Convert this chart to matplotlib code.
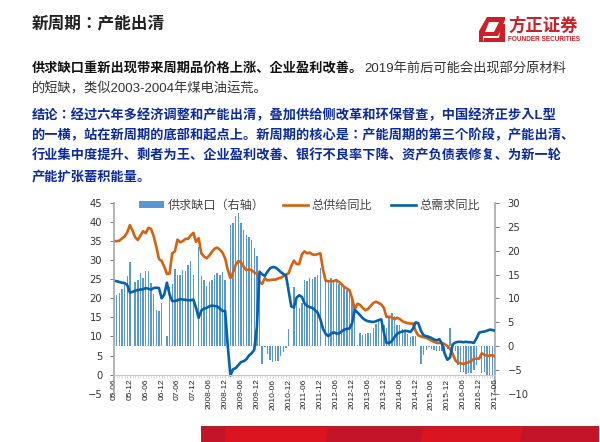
import numpy as np
import matplotlib
matplotlib.use("Agg")
import matplotlib.pyplot as plt
from matplotlib.patches import Polygon, Rectangle

CJK = ['Liberation Sans', 'Noto Sans CJK JP', 'DejaVu Sans']
plt.rcParams['font.family'] = CJK

title = "新周期：产能出清"
para1_bold = "供求缺口重新出现带来周期品价格上涨、企业盈利改善。"
para1_reg_a = "2019年前后可能会出现部分原材料"
para1_reg_b = "的短缺，类似2003-2004年煤电油运荒。"
para2 = ["结论：经过六年多经济调整和产能出清，叠加供给侧改革和环保督查，中国经济正步入L型",
         "的一横，站在新周期的底部和起点上。新周期的核心是：产能周期的第三个阶段，产能出清、",
         "行业集中度提升、剩者为王、企业盈利改善、银行不良率下降、资产负债表修复、为新一轮",
         "产能扩张蓄积能量。"]

tick_labels = ["05-06", "05-12", "06-06", "06-12", "07-06", "07-12", "2008-06", "2008-12",
               "2009-06", "2009-12", "2010-06", "2010-12", "2011-06", "2011-12", "2012-06",
               "2012-12", "2013-06", "2013-12", "2014-06", "2014-12", "2015-06", "2015-12",
               "2016-06", "2016-12", "2017-06"]

supply = [35, 35, 35.1, 35.7, 36.2, 37.3, 39.2, 37.8, 36, 35.3, 36.5, 37.6, 37.1, 38.5, 38.2,
          36.3, 33.5, 30.3, 29.8, 28.3, 26.4, 26.5, 31.8, 32.3, 35.4, 34.7, 35, 35.6, 35.6, 36.5,
          37.2, 34.8, 35.8, 31.8, 31, 30.5, 31.2, 32.2, 33, 33.3, 32.8, 32, 30.5, 27.5, 25.3,
          26.8, 28.8, 29.8, 29.5, 28.3, 27.4, 27.6, 27.4, 26.8, 26.4, 24.3, 23.8, 25.3, 24.7, 24.8,
          24.9, 24.9, 25.2, 25.4, 25.8, 26.2, 26.6, 28.5, 29.9, 29, 29, 31.5, 32.3, 31.8, 32,
          31.5, 31.4, 31.6, 31.8, 27.5, 24.6, 24.5, 24.5, 24.5, 24.8, 24.3, 23.7, 23, 22.6, 22.1,
          20, 17.1, 18.6, 18.3, 17.5, 16.9, 17.2, 18, 18.8, 19.1, 18.8, 18.4, 17.5, 15.1, 15.2,
          15, 14.5, 14.9, 14.6, 14, 13.7, 13.5, 13.4, 13.4, 11.5, 10.3, 10, 9.8, 9.7, 9.3,
          8.9, 8.6, 8.3, 8.3, 8.3, 8, 7.5, 6.8, 5.5, 3.8, 3.1, 3, 2.8, 3, 3.2,
          3.6, 4.1, 4.2, 4.2, 5.6, 5.2, 4.9, 5, 5.1, 4.7]

demand = [24.6, 24.5, 24.3, 24.1, 24, 23.5, 21.5, 21.7, 22, 22.2, 22.3, 22.4, 22.7, 22.5, 22.3,
          22.7, 22.8, 22.7, 20, 21, 24.1, 21, 19.3, 19.3, 19.5, 19.8, 19.7, 19.6, 19.5, 19.5,
          19.7, 17.5, 14.9, 16.8, 17.3, 17.5, 17.9, 18.1, 18, 17.9, 17.3, 16.7, 16.7, 7.5, -0.2,
          1.4, 1.7, 2.5, 3.3, 3.5, 4, 5, 5.6, 6.5, 12.5, 27, 26.3, 25.9, 27, 27.9,
          28.2, 28.1, 27.6, 26.9, 26.4, 26, 22, 17.9, 17.6, 20.2, 20.8, 20.4, 18.7, 18, 17.7,
          17.5, 16.9, 16.2, 14.5, 12, 10.7, 10.1, 10.7, 11.1, 10.8, 10.8, 11.3, 11.8, 12, 12.1,
          13.5, 17, 16.3, 15.6, 14.8, 14.3, 14, 13.9, 13.8, 14, 14.3, 14.5, 11, 8.3, 8.3,
          8.8, 9.8, 10.7, 11.1, 11.3, 11.5, 11.4, 11.2, 12, 13.7, 13.5, 11.5, 10.3, 10.1, 9.9,
          9.6, 9.2, 9, 9.3, 8, 5.5, 3.9, 4.5, 7.9, 8.4, 8.6, 8.6, 8.5, 8.6, 8.5,
          8.5, 8.3, 9.5, 11, 11.2, 11.3, 11.5, 11.8, 11.7, 11.5]

gap = [10.4, 10.6, 11.2, 11.9, 12.9, 14.6, 17.6, 0, 13.4, 13.8, 15.3, 14.3, 15.8, 15.7, 13.2,
       10.9, 7.6, 7.4, 9, 0, 2.2, 12.4, 13, 16.1, 15, 15, 15.9, 15.8, 17, 17.8,
       14.9, 0, 20.8, 14.6, 13.8, 12.6, 13.4, 13.8, 14.9, 15.4, 15, 15.5, 13.8, 0, 25.4,
       25.8, 27.2, 27.8, 25.9, 24.4, 23.3, 22.9, 22.2, 20.6, 18.8, 14, -3.8, -0.2, -1.6, -2.9,
       -3.4, -3.2, -3.1, -2, -1.2, -0.5, 3.6, 0, 12.3, 10, 8, 9, 13.9, 13.6, 14.3,
       14, 14.5, 14.9, 16.4, 0, 13.4, 13.6, 14.2, 13.6, 13.9, 13.1, 12.6, 12.2, 11.7, 10.9,
       9.9, 8, 0.2, 2.7, 2.4, 2.6, 2.7, 2.8, 3.7, 4.6, 5.3, 5.5, 4.5, 3.8, 6,
       6.9, 6.4, 4.4, 4.4, 3.5, 3, 2.5, 1.8, 2, 2.1, 0, -3.7, -1.8, -0.8, -0.3,
       -0.6, -0.9, -1, -1.1, -1.1, -1, -0.6, 3.7, -0.5, -1, -4, -5.4, -5.4, -5.9, -5.6,
       -5.6, -5, -4, 0, -5.7, -5.4, -6.3, -6.2, -6.4, -7]

months = np.arange(len(supply))
W, H = 600, 442
fig = plt.figure(figsize=(W / 100, H / 100), dpi=100, facecolor='white')

# slide layer in pixel coordinates
bg = fig.add_axes([0, 0, 1, 1], zorder=0)
bg.set_xlim(0, W); bg.set_ylim(H, 0); bg.axis('off')

bg.add_patch(Rectangle((201, 425.5), 398, 16.5, fc='#C2152A', ec='none'))
bg.add_patch(Polygon([[225, 442], [226, 426], [328, 426], [326, 442]], fc='#DC141F', ec='none'))
bg.add_patch(Polygon([[421, 442], [424, 426], [523, 426], [520, 442]], fc='#DA1522', ec='none'))
bg.add_patch(Rectangle((201, 425.5), 398, 1, fc='#B0202A', ec='none'))

bg.text(31.5, 23, title, fontsize=12, fontweight='bold', color='#222222', va='center', ha='left')
bg.text(31.5, 68, para1_bold, fontsize=9.5, fontweight='bold', color='#111111', va='center', ha='left')
bg.text(364, 68, para1_reg_a, fontsize=9.5, color='#333333', va='center', ha='left')
bg.text(31.5, 89, para1_reg_b, fontsize=9.5, color='#333333', va='center', ha='left')
for yy, line in zip([115, 135.5, 156, 177], para2):
    bg.text(31.5, yy, line, fontsize=9.5, fontweight='bold', color='#0B2A9E', va='center', ha='left')

# logo
red = '#CE1F27'
bg.add_patch(Polygon([[487, 17], [505, 17], [505, 20], [498, 36], [483, 36], [483, 42], [479, 42], [479, 31]],
                     fc=red, ec='none'))
bg.add_patch(Polygon([[489, 22], [499, 22], [494, 32], [485, 32]], fc='white', ec='none'))
bg.add_patch(Polygon([[501, 24], [505, 24], [505, 42], [483, 42], [484, 38], [499, 38]], fc=red, ec='none'))
bg.text(508, 25, "方正证券", fontsize=12.5, fontweight='bold', color=red, va='center', ha='left')
bg.text(508, 39.5, "FOUNDER SECURITIES", fontsize=4.7, fontweight='bold', color=red, va='center', ha='left')

# chart
left, right, top, bottom = 114, 495, 203, 393.7
pos = [left / W, 1 - bottom / H, (right - left) / W, (bottom - top) / H]
ax = fig.add_axes(pos, zorder=3)
ax2 = ax.twinx()
ax.set_zorder(ax2.get_zorder() + 1)
ax.patch.set_visible(False)
ax2.patch.set_visible(False)

ax2.bar(months, gap, width=0.52, color='#5A98D0', linewidth=0)
l1, = ax.plot(months, supply, color='#D5620F', lw=1.9, solid_joinstyle='round')
l2, = ax.plot(months, demand, color='#0461AE', lw=1.9, solid_joinstyle='round')

ax.set_xlim(0, 144)
ax.set_ylim(-5, 45)
ax2.set_ylim(-10, 30)
ax.set_yticks(np.arange(-5, 46, 5))
ax2.set_yticks(np.arange(-10, 31, 5))

for a in (ax, ax2):
    a.spines['top'].set_visible(False)
ax.spines['right'].set_visible(False)
ax2.spines['left'].set_visible(False)
ax2.spines['bottom'].set_visible(False)
ax.spines['left'].set_color('#A8A8A8'); ax.spines['left'].set_linewidth(1.2)
ax2.spines['right'].set_color('#A8A8A8'); ax2.spines['right'].set_linewidth(1.2)
ax.spines['bottom'].set_position(('data', 0))
ax.spines['bottom'].set_color('#C8C8C8'); ax.spines['bottom'].set_linewidth(0.8)

ax.set_xticks(months[::6])
ax.set_xticks(months, minor=True)
ax.set_xticklabels(tick_labels, rotation=90, ha='center', va='top',
                   family='Liberation Sans', fontsize=6, color='#222222')
ax.tick_params(axis='x', which='major', length=2, width=0.5, color='#C8C8C8', pad=0.8)
ax.tick_params(axis='x', which='minor', length=2, width=0.5, color='#D0D0D0')
ax.tick_params(axis='y', length=3, width=0.7, color='#777777', pad=5.5, labelsize=7.2, labelcolor='#333333')
ax2.tick_params(axis='y', length=3, width=0.7, color='#777777', pad=6, labelsize=7.2, labelcolor='#333333')
for t in ax.get_yticklabels() + ax2.get_yticklabels():
    t.set_family('DejaVu Sans')

gap_handle = Rectangle((0, 0), 1, 1, fc='#5A98D0', ec='none')
leg = fig.legend([gap_handle, l1, l2], ["供求缺口（右轴）", "总供给同比", "总需求同比"],
                 loc='center left', bbox_to_anchor=(139 / W, 1 - 206 / H), ncol=3, frameon=False,
                 fontsize=8.7, handlelength=2.05, handleheight=0.5, handletextpad=0.3,
                 columnspacing=1.55, borderpad=0, borderaxespad=0, labelcolor='#444444')
leg.set_zorder(10)

fig.savefig('out.png', dpi=100)
